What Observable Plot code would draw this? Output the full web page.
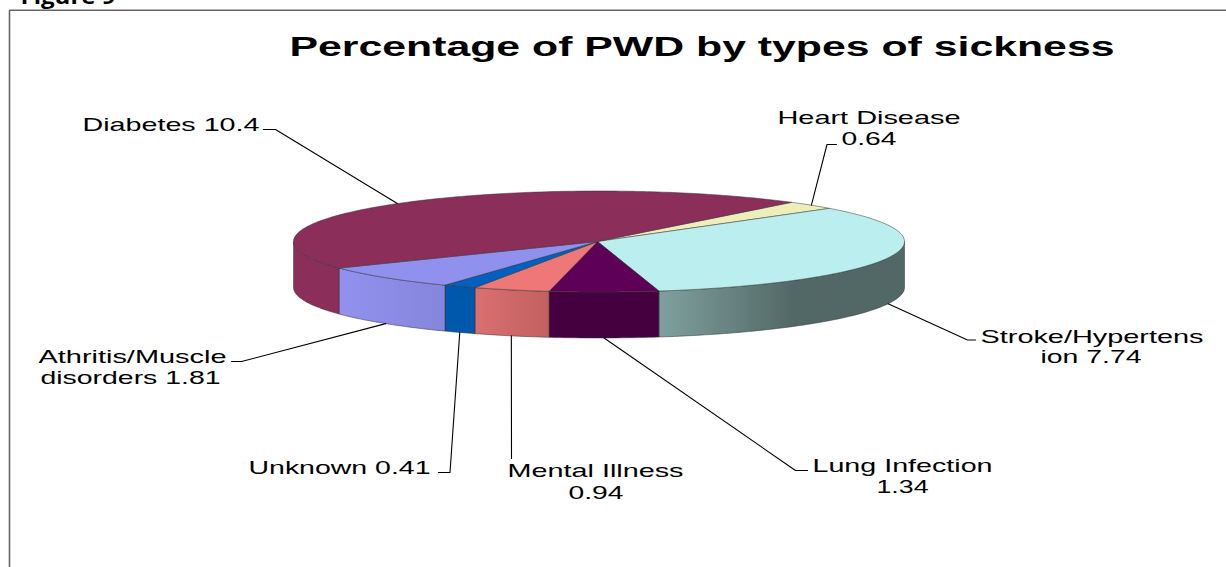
<!DOCTYPE html>
<html><head><meta charset="utf-8">
<script src="https://cdn.jsdelivr.net/npm/d3@7"></script>
<script src="https://cdn.jsdelivr.net/npm/@observablehq/plot@0.6"></script>
<style>html,body{margin:0;padding:0;background:#fff}svg{display:block}</style>
</head><body>
<script>
const categories = ["Heart Disease","Stroke/Hypertension","Lung Infection","Mental Illness","Unknown","Athritis/Muscle disorders","Diabetes"];
const values = [0.64,7.74,1.34,0.94,0.41,1.81,10.4];
const topColors = ["#eeeebb","#bbeeee","#5e0058","#ee7777","#0060c0","#9090ee","#8b2f5a"];
const sideStops = [["#e0e0b0","#e0e0b0"],["#7fa09e","#526866"],["#45003f","#45003f"],["#da7070","#c26060"],["#0058ad","#0058ad"],["#9292ee","#8585dc"],["#8b2f5a","#8b2f5a"]];
// layout
const cx=598.5, cy=241, rx=305.5, ry=50.5, depth=46, startAngle=39.1;
const leaderBends = [[[826.5,144],[836,144]],[[967,339.5],[975,339.5]],[[795,470],[807,470]],[[511,458]],[[449.5,472],[438,472]],[[241,361],[231,361]],[[275,129],[263,129]]];
const textLines = [
 ["Heart Disease",777,960,123],["0.64",841,896,144],
 ["Stroke/Hypertens",980,1203,342],["ion 7.74",1040,1141,362],
 ["Lung Infection",812,992,471],["1.34",876,928,492],
 ["Mental Illness",507,683,476],["0.94",568,623,498],
 ["Unknown 0.41",248,430,473],
 ["Athritis/Muscle",38,226,362],["disorders 1.81",40,220,383],
 ["Diabetes 10.4",82,259,130]];

const total=d3.sum(values);
const pt=(a,dy=0)=>{const r=a*Math.PI/180;return {x:cx+rx*Math.sin(r),y:cy-ry*Math.cos(r)+dy}};
const arcPts=(a0,a1,dy=0)=>{const n=Math.max(2,Math.ceil(Math.abs(a1-a0)));return d3.range(n+1).map(i=>pt(a0+(a1-a0)*i/n,dy))};
let acc=startAngle;
const slices=categories.map((name,i)=>{const a0=acc,a1=acc+values[i]/total*360;acc=a1;return {name,i,a0,a1,mid:(a0+a1)/2}});

const marks=[];
// frame
marks.push(Plot.line([{x:9,y:567},{x:9,y:9.7},{x:1226,y:9.7}],{x:"x",y:"y",stroke:"#666",strokeWidth:1.6}));
// sides
slices.forEach(s=>{
  const a0=Math.max(s.a0,90),a1=Math.min(s.a1,270);
  if(a1<=a0) return;
  const poly=[...arcPts(a0,a1),...arcPts(a1,a0,depth)];
  poly.push(poly[0]);
  marks.push(Plot.line(poly,{x:"x",y:"y",fill:`url(#side${s.i})`,stroke:"#333",strokeWidth:0.5,curve:"linear"}));
});
// tops
slices.forEach(s=>{
  const poly=[{x:cx-1.5,y:cy},...arcPts(s.a0,s.a1),{x:cx-1.5,y:cy}];
  marks.push(Plot.line(poly,{x:"x",y:"y",fill:topColors[s.i],stroke:"#333",strokeWidth:0.5,curve:"linear"}));
});
// leaders
slices.forEach(s=>{
  const norm=((s.mid%360)+360)%360;
  const front=norm>90&&norm<270;
  const start=pt(norm,front?depth:0);
  const pts=[start,...leaderBends[s.i].map(([x,y])=>({x,y}))];
  marks.push(Plot.line(pts,{x:"x",y:"y",stroke:"#000",strokeWidth:1.1,curve:"linear"}));
});
// labels
const stretch=(rows)=>function(index,scales,vals,dims,ctx,next){
  const g=next(index,scales,vals,dims,ctx);
  d3.select(g).selectAll("text").attr("lengthAdjust","spacingAndGlyphs").attr("textLength",i=>rows[i].w);
  return g;
};
const labelRows=textLines.map(([t,x0,x1,y])=>({t,x:x0,y,w:x1-x0}));
marks.push(Plot.text(labelRows,{x:"x",y:"y",text:"t",textAnchor:"start",lineAnchor:"bottom",fontSize:18.5,fontFamily:"Liberation Sans, Arial, sans-serif",fill:"#000",render:stretch(labelRows)}));
const titleRows=[{t:"Percentage of PWD by types of sickness",x:289,y:55.5,w:825}];
marks.push(Plot.text(titleRows,{x:"x",y:"y",text:"t",textAnchor:"start",lineAnchor:"bottom",fontSize:27,fontWeight:"bold",fontFamily:"Liberation Sans, Arial, sans-serif",fill:"#000",render:stretch(titleRows)}));
const figRows=[{t:"Figure 9",x:20,y:3.5,w:95}];
marks.push(Plot.text(figRows,{x:"x",y:"y",text:"t",textAnchor:"start",lineAnchor:"bottom",fontSize:21,fontWeight:"bold",fontFamily:"Open Sans, sans-serif",fill:"#000",render:stretch(figRows)}));

const chart=Plot.plot({width:1226,height:567,margin:0,
  x:{domain:[0,1226],range:[0,1226],axis:null},
  y:{domain:[0,567],range:[0,567],axis:null},
  style:{background:"#fff"},
  marks});
const defs=d3.select(chart).insert("defs",":first-child");
sideStops.forEach((c,i)=>{
  const g=defs.append("linearGradient").attr("id","side"+i);
  g.append("stop").attr("offset",0).attr("stop-color",c[0]);
  g.append("stop").attr("offset",i===1?0.55:1).attr("stop-color",c[1]);
  g.append("stop").attr("offset",1).attr("stop-color",c[1]);
});
document.body.appendChild(chart);
</script>
</body></html>
